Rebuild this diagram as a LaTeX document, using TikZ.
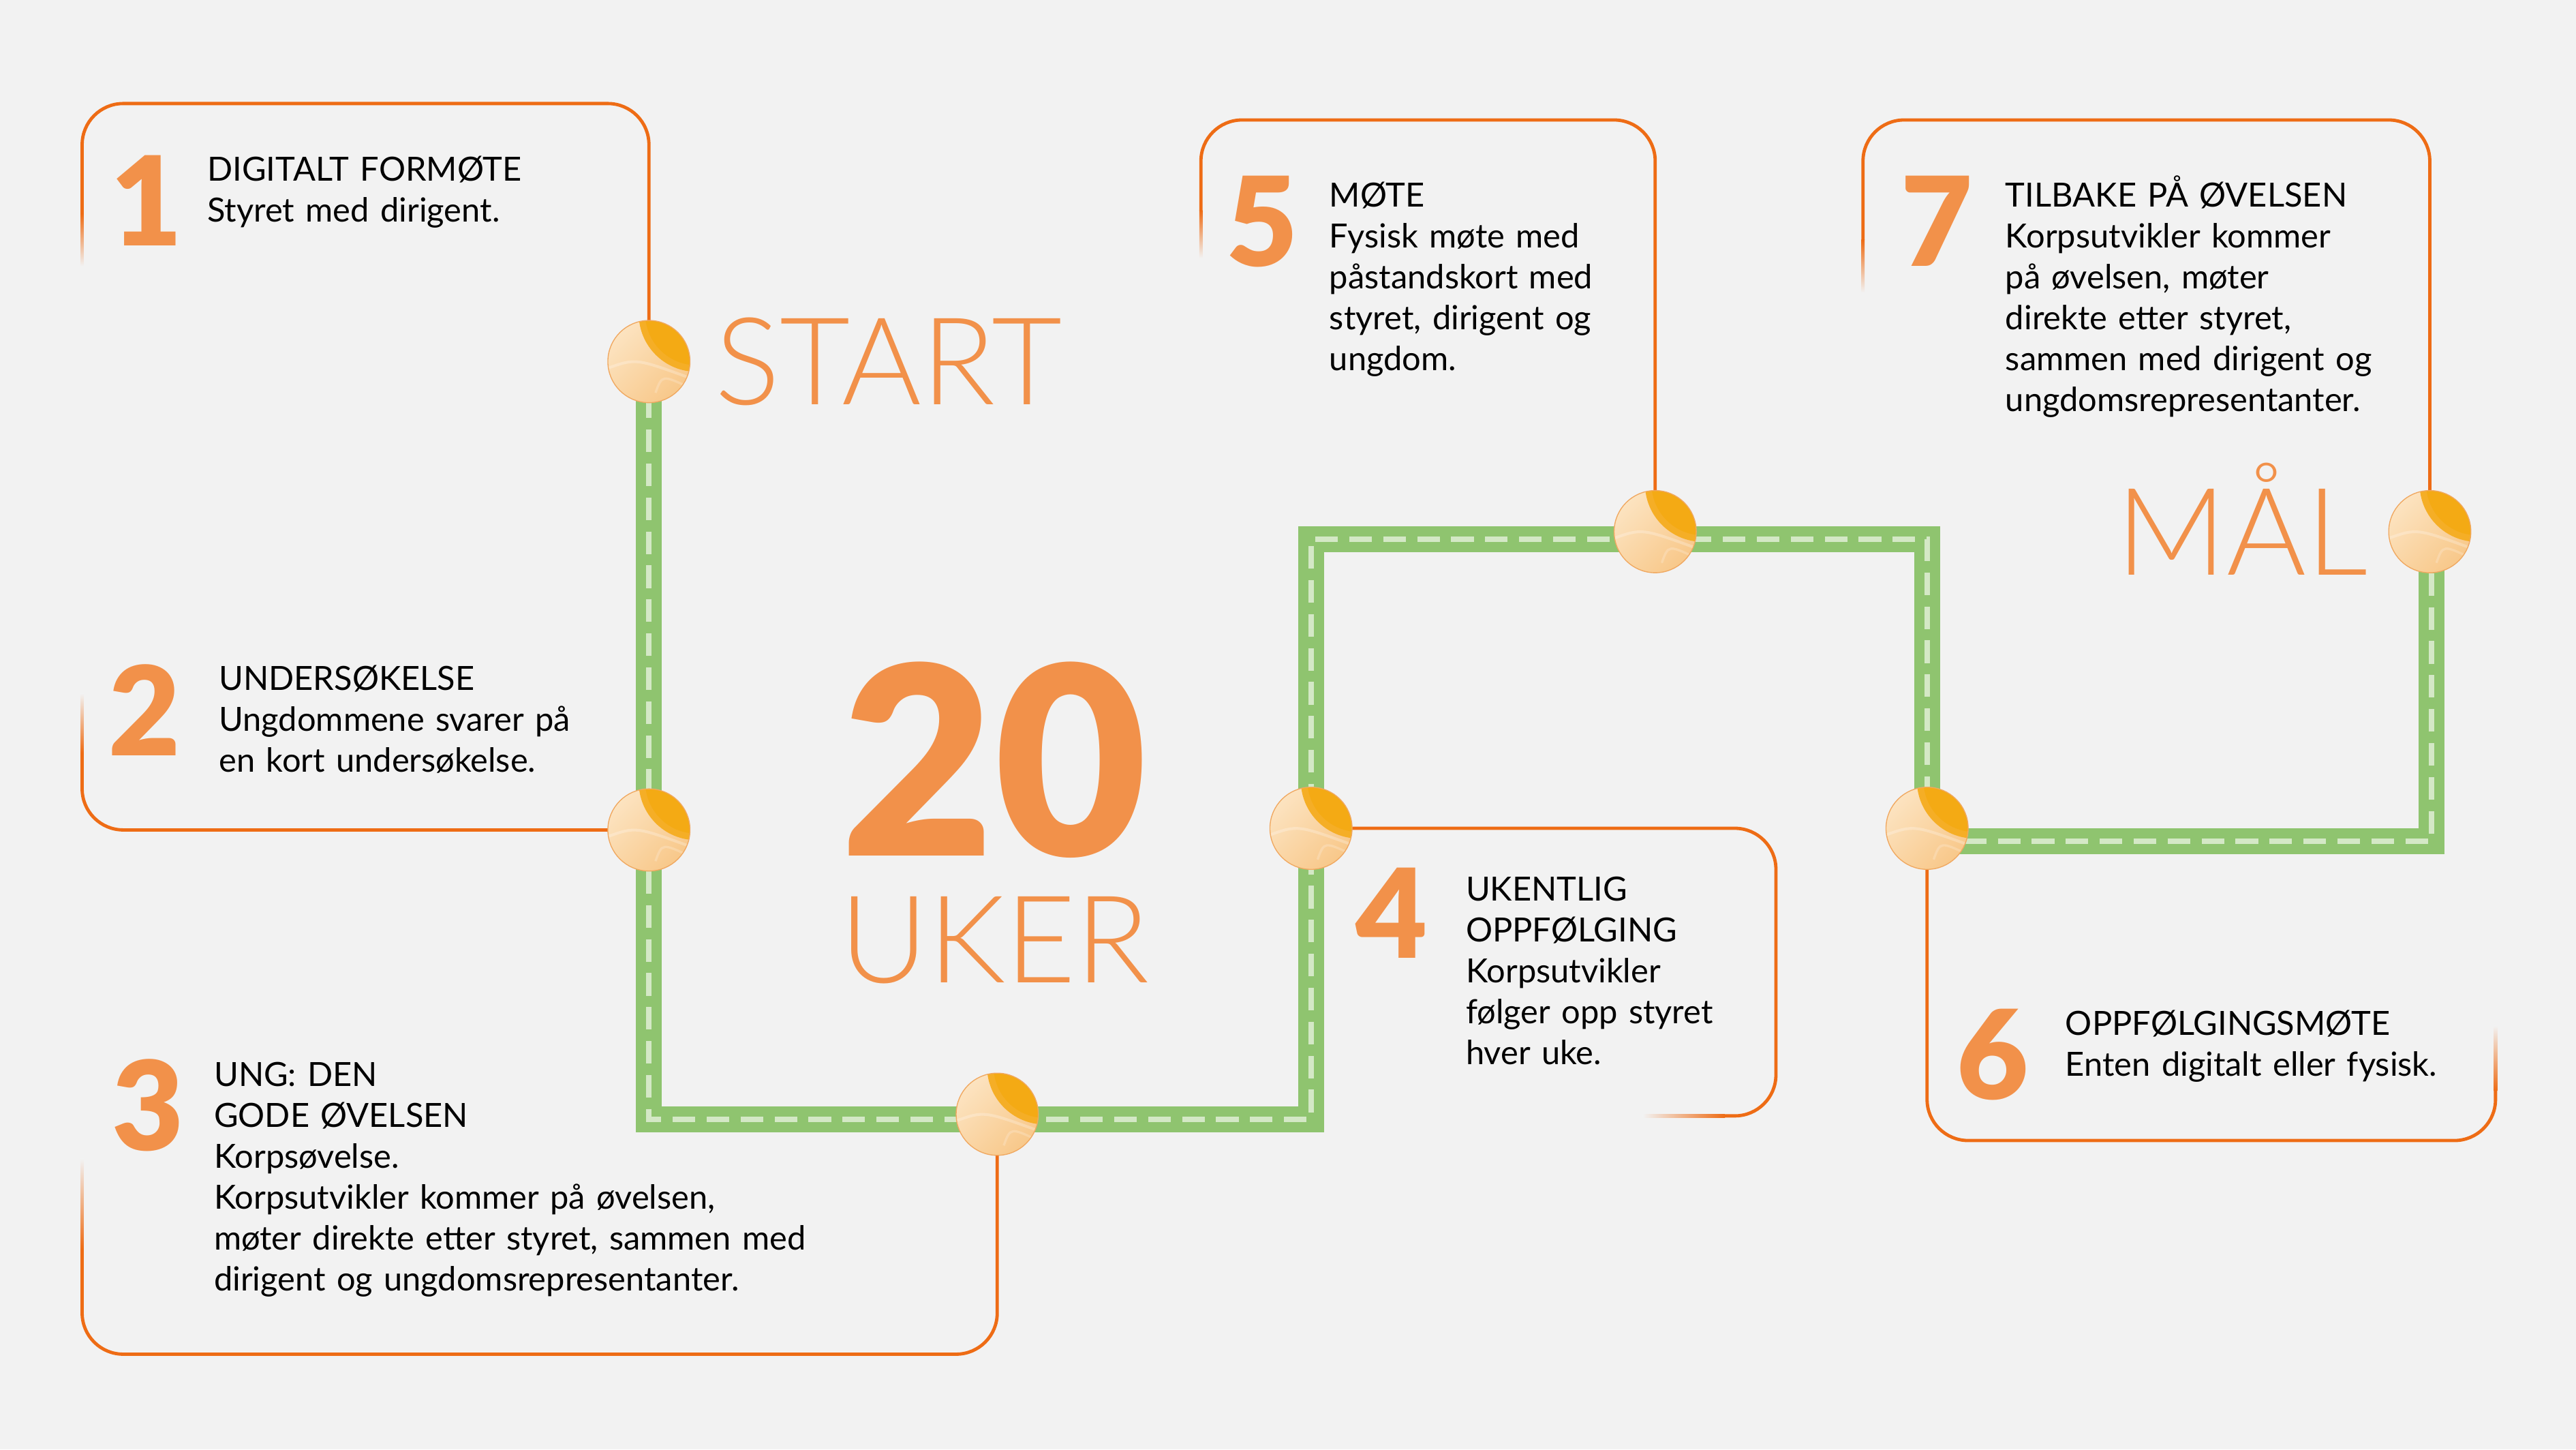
\documentclass[tikz,border=0pt]{standalone}
\usepackage{fontspec}
\setmainfont{Lato}
\newfontfamily\latolight{Lato Light}
\newfontfamily\latoblack{Lato Black}
\usetikzlibrary{positioning, calc}

\definecolor{bgc}{HTML}{F2F2F2}
\definecolor{lineorange}{HTML}{EE6C15}
\definecolor{numorange}{HTML}{F2914A}
\definecolor{roadgreen}{HTML}{8FC46F}
\definecolor{dashgreen}{HTML}{D4E8C6}
\definecolor{markpale}{HTML}{FCE3C0}
\definecolor{marklight}{HTML}{F8C88A}
\definecolor{markdark}{HTML}{F4AA14}
\definecolor{markedge}{HTML}{F0A860}

\begin{document}
\begin{tikzpicture}[x=0.025cm, y=-0.025cm,
  boxline/.style={draw=lineorange, line width=1.42pt, rounded corners=6.25mm},
  road/.style={draw=roadgreen, line width=11.2pt, line join=miter},
  roaddash/.style={draw=dashgreen, line width=2.3pt, dash pattern=on 9.8pt off 4.9pt},
  marker/.style={circle, minimum size=12.5mm, inner sep=0pt, draw=markedge, line width=0.4pt,
    path picture={
      \shade[left color=markpale, right color=marklight, shading angle=45]
        (path picture bounding box.south west) rectangle (path picture bounding box.north east);
      \fill[markdark!85!marklight] ($(path picture bounding box.north east)+(1mm,1mm)$) circle (8.8mm);
      \fill[markdark] ($(path picture bounding box.north east)+(1mm,1mm)$) circle (7.8mm);
      \draw[white, opacity=0.25, line width=1.2pt] ($(path picture bounding box.west)+(0,-1mm)$)
        .. controls ($(path picture bounding box.center)+(-2mm,0.5mm)$) .. ($(path picture bounding box.east)+(0,-2.5mm)$);
      \draw[white, opacity=0.2, line width=1pt] ($(path picture bounding box.south)+(1mm,1.5mm)$)
        .. controls ($(path picture bounding box.center)+(2mm,-2mm)$) .. ($(path picture bounding box.east)+(0,-4mm)$);
    }},
  stepnum/.style={font=\latoblack\fontsize{53.6}{54}\selectfont, text=numorange, anchor=base west, inner sep=0pt},
  steptext/.style={font=\fontsize{14.4}{17.7}\selectfont, anchor=base west, inner sep=0pt, align=left, text width=100mm},
  bigword/.style={font=\latolight\fontsize{52.6}{53}\selectfont, text=numorange, anchor=base west, inner sep=0pt}]

  % Background
  \fill[bgc] (0,0) rectangle (1568,882);
  \useasboundingbox (0,0) rectangle (1568,882);

  % Milestones (placed first, drawn again on top below)
  \path (395,220) coordinate (p1) (395,505) coordinate (p2) (607,678) coordinate (p3)
        (798,504) coordinate (p4) (1007.5,323.5) coordinate (p5) (1173,504) coordinate (p6)
        (1479,323.5) coordinate (p7);

  % Road corners
  \coordinate (g1) at (395,681);
  \coordinate (g2) at (798,681);
  \coordinate (g3) at (798,328);
  \coordinate (g4) at (1173,328);
  \coordinate (g5) at (1173,512);
  \coordinate (g6) at (1480,512);
  \coordinate (g7) at (1480,323.5);

  % Road
  \draw[road] (p1) -- (g1) -- (g2) -- (g3) -- (g4) -- (g5) -- (g6) -- (g7);
  \draw[roaddash] (p1) -- (g1) -- (g2) -- (g3) -- (g4) -- (g5) -- (g6) -- (g7);

  % Box outlines with faded ends
  \coordinate (f1) at (50,130);
  \draw[boxline] (p1) |- (50,63) -- (f1);
  \shade[top color=lineorange, bottom color=bgc] (49,130) rectangle (51,162);

  \coordinate (f2) at (50,458);
  \shade[top color=bgc, bottom color=lineorange] (49,422) rectangle (51,458);
  \draw[boxline] (f2) |- (p2);

  \coordinate (f3) at (50,760);
  \shade[top color=bgc, bottom color=lineorange] (49,705) rectangle (51,760);
  \draw[boxline] (f3) -- (50,824) -| (p3);

  \coordinate (f4) at (1050,679);
  \draw[boxline] (p4) -| (1081,679) -- (f4);
  \shade[left color=bgc, right color=lineorange] (1000,678) rectangle (1050,680);

  \coordinate (f5) at (731,128);
  \draw[boxline] (p5) |- (731,73) -- (f5);
  \shade[top color=lineorange, bottom color=bgc] (730,128) rectangle (732,157);

  \coordinate (f6) at (1519,664);
  \draw[boxline] (p6) |- (1519,694) -- (f6);
  \shade[top color=bgc, bottom color=lineorange] (1518,624) rectangle (1520,664);

  \coordinate (f7) at (1134,146);
  \draw[boxline] (p7) |- (1134,73) -- (f7);
  \shade[top color=lineorange, bottom color=bgc] (1133,146) rectangle (1135,178);

  % Milestone markers
  \foreach \i in {1,...,7} {
    \node[marker] (m\i) at (p\i) {};
  }

  % Big words
  \node[bigword] (start) at (435,246) {START};
  \node[bigword] (goal) at (1288,350) {MÅL};
  \node[font=\latoblack\fontsize{114}{114}\selectfont, text=numorange, anchor=base west, inner sep=0pt] (weeks) at (512,521) {20};
  \node[bigword] (uker) at (511,598) {UKER};

  % Step 1
  \node[stepnum] (n1) at (67,149.5) {1};
  \node[steptext] (t1) at (126,110) {DIGITALT FORMØTE\\Styret med dirigent.};

  % Step 2
  \node[stepnum] (n2) at (66,460) {2};
  \node[steptext] (t2) at (133,420) {UNDERSØKELSE\\Ungdommene svarer på\\en kort undersøkelse.};

  % Step 3
  \node[stepnum] (n3) at (68,700) {3};
  \node[steptext] (t3) at (130,661) {UNG: DEN\\GODE ØVELSEN\\Korpsøvelse.\\Korpsutvikler kommer på øvelsen,\\møter direkte etter styret, sammen med\\dirigent og ungdomsrepresentanter.};

  % Step 4
  \node[stepnum] (n4) at (825,583) {4};
  \node[steptext] (t4) at (892,548) {UKENTLIG\\OPPFØLGING\\Korpsutvikler\\følger opp styret\\hver uke.};

  % Step 5
  \node[stepnum] (n5) at (746,162) {5};
  \node[steptext] (t5) at (809,126) {MØTE\\Fysisk møte med\\påstandskort med\\styret, dirigent og\\ungdom.};

  % Step 6
  \node[stepnum] (n6) at (1191,669) {6};
  \node[steptext] (t6) at (1257,630) {OPPFØLGINGSMØTE\\Enten digitalt eller fysisk.};

  % Step 7
  \node[stepnum] (n7) at (1157,162) {7};
  \node[steptext] (t7) at (1220.5,126) {TILBAKE PÅ ØVELSEN\\Korpsutvikler kommer\\på øvelsen, møter\\direkte etter styret,\\sammen med dirigent og\\ungdomsrepresentanter.};
\end{tikzpicture}
\end{document}
